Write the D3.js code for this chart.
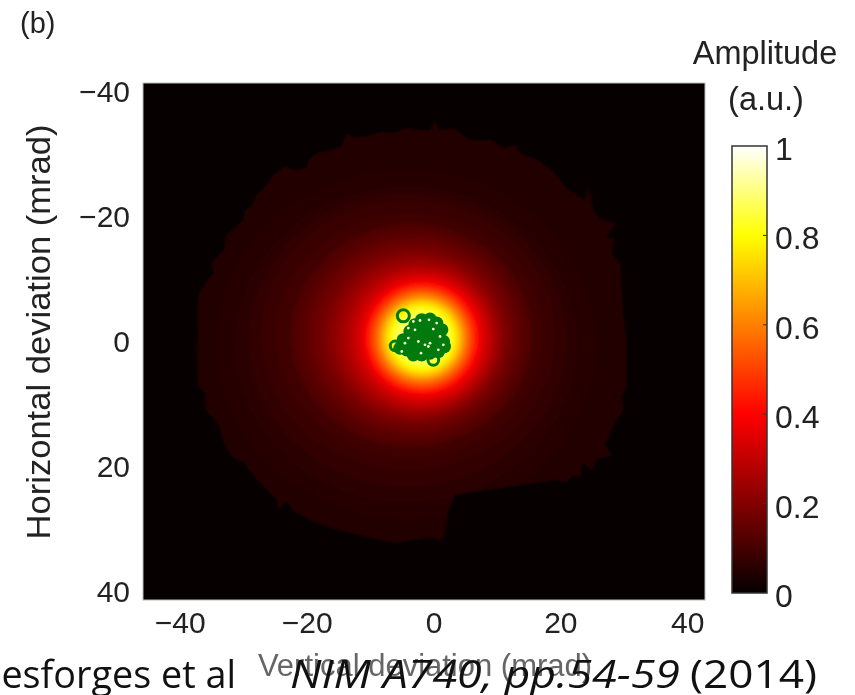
<!DOCTYPE html>
<html>
<head>
<meta charset="utf-8">
<script src="https://cdn.jsdelivr.net/npm/d3@7"></script>
<style>
html,body{margin:0;padding:0;background:#fff;overflow:hidden}
text{font-family:"Liberation Sans",Arial,sans-serif;fill:#222}
.axis text{font-size:30px}
.barAxis text{font-size:32px}
</style>
</head>
<body>
<svg id="plot" width="855" height="695"></svg>
<script>
var xTicks = [-40,-20,0,20,40];
var yTicks = [-40,-20,0,20,40];
var barTicks = [0,0.2,0.4,0.6,0.8,1];

//contour bands, outside to inside (mrad)
var ringRx = [45,30,27,25,23.2,21,19,18,17,16,15.5,14.7,14,13.5,13,12.5,12,11.5,11,10.5,10,9.3,9,8.5,8,7.5,7,6.5,6,5.5,5,4.5,4,3,2];
var ringRy = [45,28,25.3,23.4,21.6,19.5,17.8,16.9,16,15.2,14.7,14,13.4,13,12.5,12.1,11.7,11.3,10.9,10.4,10,9.3,9,8.5,8,7.5,7,6.5,6,5.5,5,4.5,4,3,2];
var ringCx = [-1.8,-4.3,-4.3,-4.1,-4,-3.8,-3.5,-3.4,-3.2,-3.1,-3,-2.8,-2.7,-2.6,-2.5,-2.4,-2.2,-2.1,-2,-1.9,-1.8,-1.8,-1.8,-1.8,-1.8,-1.8,-1.8,-1.8,-1.8,-1.8,-1.8,-1.8,-1.8,-1.8,-1.8];
var ringCy = [-0.6,0.4,0.4,-0.3,-1,-1,-1,-1,-1,-1,-1,-0.9,-0.8,-0.8,-0.8,-0.7,-0.6,-0.6,-0.6,-0.6,-0.6,-0.6,-0.6,-0.6,-0.6,-0.6,-0.6,-0.6,-0.6,-0.6,-0.6,-0.6,-0.6,-0.6,-0.6];
var ringAmp = [0.044,0.05,0.06,0.068,0.078,0.095,0.118,0.13,0.145,0.16,0.17,0.185,0.2,0.215,0.23,0.245,0.26,0.28,0.30,0.32,0.345,0.39,0.41,0.45,0.5,0.55,0.6,0.66,0.72,0.77,0.8,0.84,0.87,0.92,0.97];

//edge of the lit region
var edgeX = [-2.1,-4.2,-6.3,-8.4,-10.5,-12.6,-13.7,-14.5,-16.3,-18.4,-19.7,-20,-21.8,-23.4,-25.3,-26.1,-26.8,-27.9,-28.7,-29.7,-30,-31,-32.6,-33.1,-35,-34.7,-36,-37.1,-37.2,-37.1,
    -37.35,-37.1,-36,-35.9,-33.7,-33.1,-31.6,-30,-28.7,-27.4,-24.7,-24.5,-23.2,-22.1,-19.2,-16.3,-13.2,-8.4,-5.8,-3.2,-0.5,
    0.5,1.55,1.8,2.4,3.4,6.3,12.6,19.4,21,22.05,23.1,23.6,25,25.7,28.1,27.1,27.8,28.9,30,29.7,30.5,30.5,
    30,29.4,28.1,28.6,27.1,28.9,26.5,25.2,24.4,23.9,21,18.9,16.5,13.6,13.1,11,9.2,5.8,3.1,1,0.2,-0.5];
var edgeY = [-33.9,-34.2,-33.4,-33.6,-32.9,-32.7,-33.3,-31.3,-30.7,-30.2,-29.1,-27.8,-27.4,-28.1,-26.7,-25.4,-24.6,-23.5,-21.7,-21.1,-19.5,-18.5,-17.1,-14.7,-12.6,-11,-9.4,-7.5,-4,-0.3,
    0.75,7.1,8.2,10.9,13.5,16.2,18.6,19.2,21,22.6,25.3,26.9,25.5,27.1,28.7,29.8,30.6,31.7,32.2,31.7,31.4,
    31.7,31.7,30.1,26.9,24.5,24,23.1,22.1,22.6,21.3,21.8,19.4,20.7,18.9,18.1,16.5,14.6,12.5,10.9,8.7,7.1,-0.3,
    -4,-12.6,-14.2,-16.6,-16.6,-19,-19.5,-21.1,-24.9,-22.7,-24.6,-27.3,-29.1,-30.2,-31.5,-31,-32.3,-32.3,-34.2,-33.9,-35.5,-33.9];

//green markers in the centre
var coreX = [-1.87,-0.55,0.5,-2.92,1.29,-3.71,-2.13,-0.55,0.5,-1.34,-2.92,-3.97,1.55,0.24,-1.34,-2.65,-4.23,-5.28,-3.18,-1.87,-0.55,0.76,1.71,-4.76];
var coreY = [-3.52,-3.63,-2.99,-2.72,-1.92,-1.65,-1.92,-2.19,-1.12,-0.85,-0.59,-0.32,-0.05,0.21,0.48,0.75,1.28,1.01,2.08,2.08,1.81,1.55,0.75,-0.32];
var ringDotX = [-4.76,-6.07,-0.03];
var ringDotY = [-4.16,0.64,2.88];
var ringDotR = [0.95,0.75,0.85];
var speckX = [-2.92,-0.71,0.5,-3.97,-0.03,1.03,-3.97,-4.5,-2.39,-1.34,-0.55,-1.97,0.76,-3.18,-2.13,-0.81,1.55,-5];
var speckY = [-1.92,-3.52,-2.99,-2.19,-2.03,-0.85,-0.59,0.21,-0.05,0.48,0.21,1.81,1.28,-3.25,-3.41,0.75,0.48,1.55];

var colourStops = [0,0.4,0.8,1];
var colourValues = ["#060000","#ff0000","#ffff00","#ffffff"];

var box = {left:143,right:705,top:83,bottom:600};
var bar = {left:732,right:767,top:146,bottom:593};

var svg = d3.select("#plot");

var xScale = d3.scaleLinear().domain([-45.8,42.8]).range([box.left,box.right]);
var yScale = d3.scaleLinear().domain([-41.4,41.3]).range([box.top,box.bottom]);
var colour = d3.scaleLinear().domain(colourStops).range(colourValues);
var barScale = d3.scaleLinear().domain([0,1]).range([bar.bottom,bar.top]);

var addBlur = function(id,size)
{
    defs.append("filter").attr("id",id).append("feGaussianBlur").attr("stdDeviation",size);
}

var defs = svg.append("defs");
addBlur("soft",0.8);
addBlur("bands",1.5);
addBlur("softer",2.5);
addBlur("tiny",0.5);
defs.append("clipPath").attr("id","plotClip").append("rect")
    .attr("x",box.left).attr("y",box.top)
    .attr("width",box.right-box.left).attr("height",box.bottom-box.top);

var grad = defs.append("linearGradient").attr("id","barGrad")
    .attr("x1",0).attr("x2",0).attr("y1",1).attr("y2",0);
grad.selectAll("stop").data(colourStops).enter().append("stop")
    .attr("offset",function(d){return d})
    .attr("stop-color",function(d){return colour(d)});

//heat map
svg.append("rect")
    .attr("x",box.left).attr("y",box.top)
    .attr("width",box.right-box.left).attr("height",box.bottom-box.top)
    .attr("fill",colour(0))
    .attr("stroke","#bbb").attr("stroke-width",1);

var edgeLine = d3.line()
    .x(function(d,i){return xScale(edgeX[i])})
    .y(function(d,i){return yScale(edgeY[i])});
defs.append("clipPath").attr("id","edgeClip").append("path")
    .attr("d",edgeLine(edgeX)+"Z");

var rings = ringRx.map(function(r,i){
    return {rx:r,ry:ringRy[i],cx:ringCx[i],cy:ringCy[i],amp:ringAmp[i]};
});
var kx = xScale(1)-xScale(0), ky = yScale(1)-yScale(0);

var drawRings = function(parent,data)
{
    parent.selectAll("ellipse")
        .data(data)
        .enter()
        .append("ellipse")
        .attr("cx",function(d){return xScale(d.cx)})
        .attr("cy",function(d){return yScale(d.cy)})
        .attr("rx",function(d){return d.rx*kx})
        .attr("ry",function(d){return d.ry*ky})
        .attr("fill",function(d){return colour(d.amp)});
}

var heat = svg.append("g").attr("clip-path","url(#plotClip)");
var outer = heat.append("g").attr("filter","url(#soft)")
    .append("g").attr("clip-path","url(#edgeClip)")
    .append("g").attr("filter","url(#bands)");
drawRings(outer,rings.filter(function(d){return d.rx>=19}));
drawRings(heat.append("g").attr("filter","url(#softer)"),rings.filter(function(d){return d.rx<19}));

//markers
var markers = svg.append("g").attr("filter","url(#tiny)");
markers.append("g")
    .selectAll("circle")
    .data(ringDotX)
    .enter()
    .append("circle")
    .attr("cx",function(d){return xScale(d)})
    .attr("cy",function(d,i){return yScale(ringDotY[i])})
    .attr("r",function(d,i){return ringDotR[i]*kx})
    .attr("fill","none")
    .attr("stroke","#007a10")
    .attr("stroke-width",3);
markers.append("g")
    .selectAll("circle")
    .data(coreX)
    .enter()
    .append("circle")
    .attr("cx",function(d){return xScale(d)})
    .attr("cy",function(d,i){return yScale(coreY[i])})
    .attr("r",1.05*kx)
    .attr("fill","#007a10");
markers.append("g")
    .selectAll("circle")
    .data(speckX)
    .enter()
    .append("circle")
    .attr("cx",function(d){return xScale(d)})
    .attr("cy",function(d,i){return yScale(speckY[i])})
    .attr("r",0.22*kx)
    .attr("fill","#f4f4c8");

//everything with words gets the same slight softness as the scan
var words = svg.append("g").attr("filter","url(#tiny)");

//axes
var xAxis = d3.axisBottom(xScale).tickValues(xTicks).tickSize(0).tickPadding(12).tickFormat(d3.format("d"));
var yAxis = d3.axisLeft(yScale).tickValues(yTicks).tickSize(0).tickPadding(13).tickFormat(d3.format("d"));
words.append("g").attr("class","axis")
    .attr("transform","translate(0,"+box.bottom+")")
    .call(xAxis).call(function(g){g.select(".domain").remove()});
words.append("g").attr("class","axis")
    .attr("transform","translate("+box.left+",0)")
    .call(yAxis).call(function(g){g.select(".domain").remove()});

//colour bar
svg.append("rect")
    .attr("x",bar.left).attr("y",bar.top)
    .attr("width",bar.right-bar.left).attr("height",bar.bottom-bar.top)
    .attr("fill","url(#barGrad)")
    .attr("stroke","#333").attr("stroke-width",1.5);
var barAxis = d3.axisRight(barScale).tickValues(barTicks).tickSize(0).tickPadding(8).tickFormat(d3.format(""));
words.append("g").attr("class","barAxis")
    .attr("transform","translate("+bar.right+",0)")
    .call(barAxis).call(function(g){g.select(".domain").remove()})
    .selectAll("text").attr("dy","0.42em");
svg.append("g")
    .selectAll("line")
    .data(barTicks.slice(1,5))
    .enter()
    .append("line")
    .attr("x1",bar.right-4).attr("x2",bar.right)
    .attr("y1",function(d){return barScale(d)})
    .attr("y2",function(d){return barScale(d)})
    .attr("stroke","#333");

//titles
words.append("text").attr("x",20).attr("y",33).style("font-size","29px").text("(b)");
words.append("text").attr("x",765).attr("y",64).attr("text-anchor","middle").style("font-size","32.5px").text("Amplitude");
words.append("text").attr("x",766).attr("y",110).attr("text-anchor","middle").style("font-size","32.5px").text("(a.u.)");
words.append("text")
    .attr("transform","translate(50,332) rotate(-90)")
    .attr("text-anchor","middle").style("font-size","34px")
    .attr("textLength",415).attr("lengthAdjust","spacingAndGlyphs")
    .text("Horizontal deviation (mrad)");
words.append("text").attr("x",425).attr("y",676)
    .attr("text-anchor","middle").style("font-size","31px").style("fill","#666")
    .text("Vertical deviation (mrad)");

//citation over the bottom
var cite = svg.append("g").style("font-size","39px");
cite.append("text").attr("x",-26).attr("y",688)
    .attr("textLength",262).attr("lengthAdjust","spacingAndGlyphs")
    .style("font-family","'Open Sans'").style("fill","#111").text("Desforges et al");
cite.append("text").attr("x",290).attr("y",688)
    .attr("textLength",390).attr("lengthAdjust","spacingAndGlyphs")
    .style("font-family","'Open Sans'").style("font-style","italic").style("fill","#111").text("NIM A740, pp.54-59");
cite.append("text").attr("x",690).attr("y",688)
    .attr("textLength",127).attr("lengthAdjust","spacingAndGlyphs")
    .style("font-family","'Open Sans'").style("fill","#111").text("(2014)");
</script>
</body>
</html>
